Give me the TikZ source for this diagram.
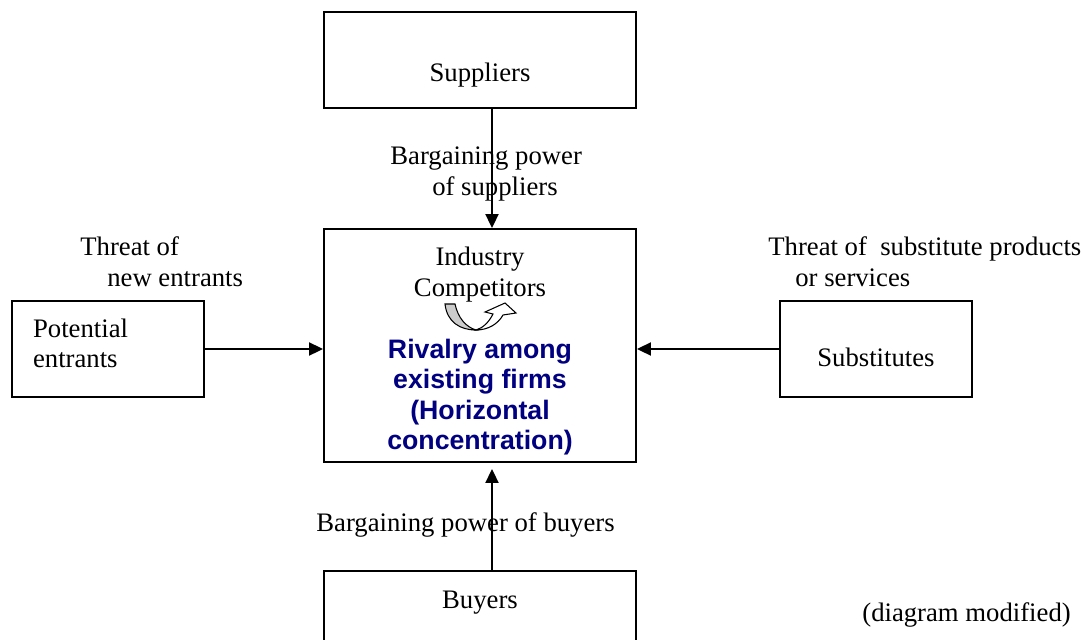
\documentclass[tikz,border=0pt]{standalone}
\usepackage{fontspec}
\setmainfont{Liberation Serif}
\newfontfamily\arialfont{Liberation Sans}
\usetikzlibrary{arrows.meta,positioning}
\definecolor{rivalblue}{RGB}{0,0,128}
\tikzset{
  blk/.style={draw,rectangle,line width=1.1pt,align=center,inner sep=0pt,font=\fontsize{15.2}{17}\selectfont},
  wideblk/.style={blk,minimum width=6.24cm,minimum height=1.92cm},
  sideblk/.style={blk,minimum width=3.84cm,minimum height=1.92cm},
  arr/.style={-{Triangle[length=0.28cm,width=0.26cm]},line width=1.1pt},
  lbl/.style={inner sep=0pt,align=left,font=\fontsize{15.2}{17.6}\selectfont},
  rvl/.style={align=center,inner sep=0pt,font=\arialfont\bfseries\fontsize{15.2}{17.4}\selectfont,text=rivalblue}
}

\begin{document}
\begin{tikzpicture}[x=0.02cm,y=-0.02cm]
  \useasboundingbox (0,0) rectangle (1081,639);
  \node[blk,minimum width=6.24cm,minimum height=4.66cm] (ind) at (480,345.5) {};
  \node[wideblk,above=2.38cm of ind,text height=0.98cm,text depth=0.12cm] (sup) {Suppliers};
  \node[wideblk,minimum height=0pt,below=2.14cm of ind,text height=0.76cm,text depth=1.4cm] (buy) {Buyers};
  \node[sideblk,anchor=east,align=left,text width=3.0cm,inner xsep=0.42cm,text depth=0.84cm] (ent) at (205,349) {Potential\\entrants};
  \node[sideblk,anchor=west,text height=0.82cm,text depth=0.12cm] (subs) at (779,349) {Substitutes};

  \node[lbl,align=center] (comp) at (480,275) {Industry\\Competitors};
  \node[rvl] (rival) at (480,397) {Rivalry among\\existing firms\\(Horizontal\\concentration)};
  \node[lbl,anchor=west] (supl) at (390,174) {Bargaining power\\\hspace*{0.84cm}of suppliers};
  \node[lbl,anchor=west] (entl) at (80,262) {Threat of\\\hspace*{0.54cm}new entrants};
  \node[lbl,anchor=west] (subl) at (768,262) {Threat of\ \ substitute products\\\hspace*{0.54cm}or services};
  \node[lbl,anchor=west] (buyl) at (316,525) {Bargaining power of buyers};
  \node[lbl,anchor=west] (note) at (862,615) {(diagram modified)};

  \draw[arr] ([xshift=0.24cm]sup.south) -- ([xshift=0.24cm]ind.north);
  \draw[arr,shorten >=0.12cm] ([xshift=0.24cm]buy.north) -- ([xshift=0.24cm]ind.south);
  \draw[arr] (ent.east) -- (ind.west|-ent.east);
  \draw[arr] (subs.west) -- (ind.east|-subs.west);

  % u-turn arrow under the competitors
  \filldraw[fill=gray!40,line width=0.6pt] (445,304) .. controls (447,322) and (460,330) .. (476,330)
    .. controls (466,327) and (458,318) .. (455,304) -- cycle;
  \filldraw[fill=white,line width=0.6pt] (476,330) .. controls (488,330) and (498,324) .. (503,315)
    -- (516,313) -- (505,303) -- (485,312) -- (493,314) .. controls (489,322) and (483,328) .. (476,330) -- cycle;
\end{tikzpicture}
\end{document}
